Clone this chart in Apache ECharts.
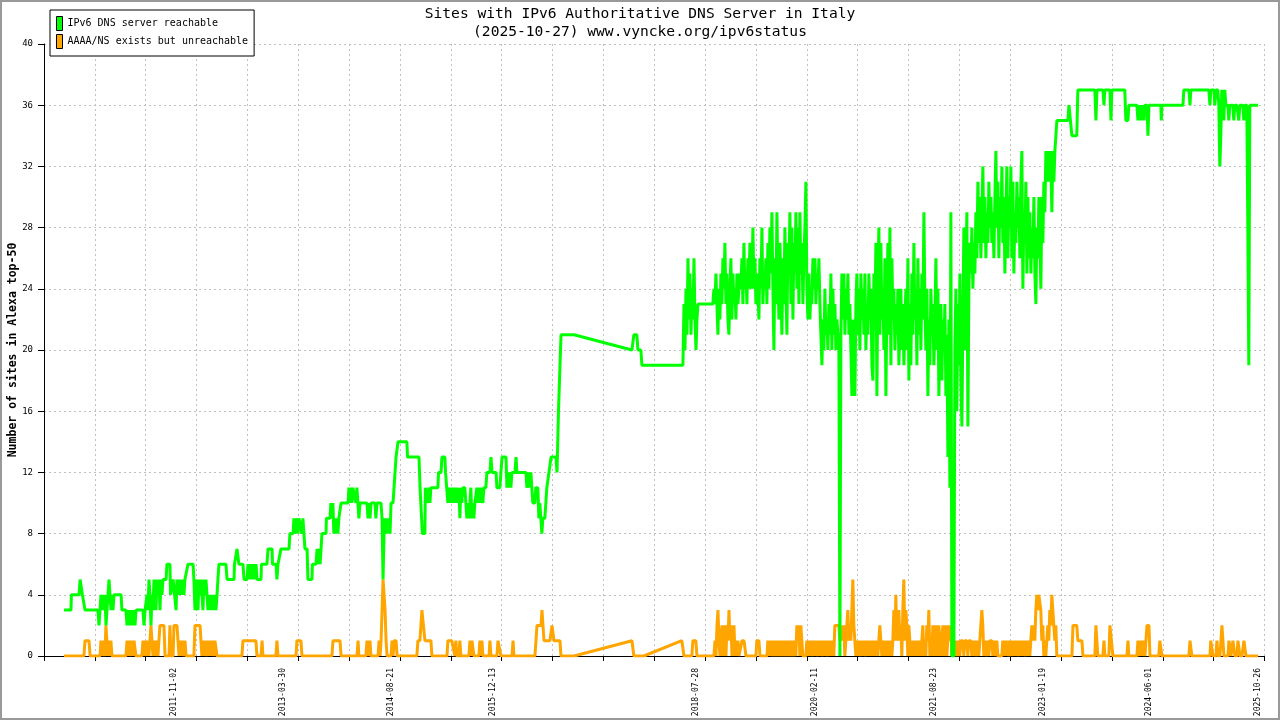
<!DOCTYPE html>
<html><head><meta charset="utf-8">
<script src="https://cdn.jsdelivr.net/npm/echarts@6/dist/echarts.min.js"></script>
<style>html,body{margin:0;padding:0;background:#fff}#c{width:1280px;height:720px}</style>
</head><body><div id="c"></div>
<script>
// ---- data (days since 2010-03-02, value) ; entries [day,[v...]] are runs sampled every SAMPLE_DAYS ----
const START = Date.UTC(2010, 2, 2);
const DAY = 86400000;
const SAMPLE_DAYS = 4.709;

const dateLabels = ['2011-11-02','2013-03-30','2014-08-21','2015-12-13','2018-07-28','2020-02-11','2021-08-23','2023-01-19','2024-06-01','2025-10-26'];

const reachable = [
 [94,3],[127,3],[129,4],[165,4],[170,5],[179,5],[181,4],[188,4],[193,3],[254,3],
 [259,[2,3,4,3,4,3,4,2,3,4,5,4,3,4,3,4]],
 [363,4],[367,3],[386,3],
 [391,[2,3,2,3,2,3,2,3,2,3]],
 [466,3],[471,2],[476,3],[480,3],
 [485,[4,3,5,4,2,4,3,5,4,3,5,4,5,3,5,4,5]],
 [575,5],[579,6],[593,6],[596,4],[603,4],[608,5],[617,5],[622,3],
 [626,[5,4,5,4,5,4,5,4,5]],
 [673,5],[678,6],[702,6],[706,5],
 [711,[3,5,4,3,5,4,5,4,3,5,4,5,4,3,4,3,4,3,4,3,4,3]],
 [815,4],[819,5],[824,6],[857,6],[862,5],[895,5],[897,6],[904,6],[909,7],[914,7],[918,6],[937,6],[942,5],[956,5],
 [961,[6,5,6,5,6,5,6,5,6]],
 [1003,5],[1022,5],[1024,6],[1050,6],[1055,7],[1074,7],[1076,6],[1093,6],[1097,5],[1102,6],[1111,6],[1116,7],[1154,7],[1158,8],[1173,8],
 [1177,[9,8,9,9,8,9,9,9,8,9,9]],
 [1229,7],[1239,7],[1243,5],[1262,5],[1264,6],[1281,6],
 [1286,[7,6,7,6,7]],
 [1309,8],[1328,8],[1330,9],[1347,9],
 [1351,[10,9,10,8,9,8,9,8,9,9]],
 [1399,10],[1432,10],
 [1436,[11,10,11,10,11,11,11,10,11,11,9,10]],
 [1493,10],[1521,10],
 [1526,[9,10,9,10]],
 [1559,10],[1563,9],[1568,10],[1587,10],
 [1592,[9,5,8,9,8,9,8,9,8,10,10,10,10,12,13,13,14]],
 [1709,14],[1712,13],[1766,13],[1771,11],[1780,11],[1782,8],[1794,8],[1796,11],[1803,11],
 [1808,[10,11,10,11]],
 [1855,11],[1858,12],[1870,12],[1874,13],[1888,13],[1891,12],[1898,12],
 [1902,[10,11,10,11,10,11,10,11,10,11,10,11,9,11,10,11,11,11,11,9,10,9,10,11,9,10,9,10,10,11,10,11,10,11,11,10,11,11,11]],
 [2086,12],[2100,12],[2105,13],[2110,12],[2129,12],[2133,11],[2147,11],[2152,12],[2157,13],[2176,13],
 [2180,[11,12,11,12,11,12,12]],
 [2218,12],[2223,13],[2227,12],[2270,12],
 [2274,[11,11,12,11,12,11,10,10,10,11,11,11,9,10,9,8,9,9,9,10,11]],
 [2378,12],[2383,12],[2388,13],[2411,13],[2416,12],[2420,12],[2423,16],[2430,19],[2435,21],[2496,21],
 [2769,20],[2778,21],[2792,21],[2797,20],[2811,20],[2816,19],[3009,19],
 [3014,[23,20,24,21,26,22,25,21,24,22,26,22,20,22]],
 [3080,23],[3150,23],
 [3155,[24,23,25,23,21,24,22,25,23,26,24,27,23,25,22,21,24,26,22,25,23,24,22,25,23,24,25,
        24,26,23,27,24,25,23,26,24,27,25,24,28,24,26,23,25,24,22,26,24,28,23,25,24,26,23,27,24,28,25,29,24,20,
        26,23,29,25,22,27,24,21,26,23,28,24,21,27,25,29,23,28,22,27,25,29,24,28,23,29,25,27,23,26,28,31,24,
        22,25,22,24,23,26,24,26,23,25,24,26,23,
        21,19,22,20,24,21,22,20,23,21,25,20,24,21,23,20,22,21,20,
        0,21,25,22,25,21,24,22,25,21,23,20,17,22,19,17,23,25,21,24,20,25,22,24,21,25,20,23,21,25,22,24,19,18,25,
        22,27,17,25,28,21,27,22,24,20,26,17,23,27,21,28,19,26,22,24,20,23,21,24,19,22,24,20,23,19,22,24,20,26,18,23,
        19,25,21,27,22,24,19,26,21,24,20,25,22,29,23,20,24,17,22,19,24,21,23,19,22,26,20,24,17,21,23,18,22,20,23,17,21,13,22,11,29,0,0,0,
        20,24,16,23,19,25,18,15,22,28,20,25,29,15,24,27,25,28,24,27,25,29,26,31,27,30,26,29,32,27,30,26,29,27,31,28,30,27,29,26,
        30,33,28,31,26,30,28,32,27,30,25,29,32,26,30,28,32,26,31,25,29,27,31,28,30,26,31,33,24,29,27,31,25,30,26,29,25,28,26,30,
        25,23,28,26,30,27,24,30,27,31,29,33,31,33,31,33,32,29,33,31,33,34,35]],
 [4822,35],[4827,36],[4836,36],[4841,34],[4864,34],[4869,37],[4949,37],[4954,35],[4959,37],[4987,37],[4992,36],[4996,37],
 [5020,37],[5025,35],[5029,37],[5090,37],[5095,35],[5105,35],[5109,36],[5147,36],
 [5152,[35,36,35,36,35,36,35,36,36,36,34,36]],
 [5260,36],[5262,35],[5265,36],[5364,36],[5368,37],[5392,37],[5397,36],[5401,37],[5486,37],[5491,36],[5495,37],[5510,37],
 [5514,[36,37,37,37,36,32,34,37,36,35,37,36,36,36,35,36,36,36,36,35,36,36,36,36,35,36,36,36,36,35,36,36,36,28,19,36]],
 [5718,36]
];

const unreachable = [
 [94,0],[188,0],[193,1],[212,1],[217,0],[264,0],
 [268,[1,0,1,1,0,2,1,0,1,0,1]],
 [320,0],[386,0],
 [391,[1,0,1,1,0,1,0,1,1]],
 [433,0],[461,0],
 [466,[1,0,1,1,0,1,0,1,2,1,0,1,0,1,1,0,1,2,2,2,2,2]],
 [570,0],[589,0],[593,2],[598,0],[608,0],[612,2],[626,2],
 [631,[1,0,1,0,1,1,0,1]],
 [669,0],[706,0],[711,2],[735,2],
 [739,[1,0,1,0,1,1,0,1,0,1,0,1,1,0,1,1]],
 [815,0],[932,0],[937,1],[998,1],[1003,0],[1022,0],[1027,1],[1031,0],[1092,0],[1097,1],[1102,0],[1187,0],[1191,1],[1210,1],[1215,0],
 [1356,0],[1361,1],[1394,1],[1399,0],[1474,0],[1479,1],[1483,0],[1516,0],
 [1521,[1,0,0,1,0]],
 [1573,0],
 [1578,[1,0,1,1,5,5,3,1,0,0,0,0,0,1,0,1,1,1,0]],
 [1756,0],
 [1761,[1,1,1,1,3,3,3,1,1,1,1,1,1,1,0]],
 [1898,0],
 [1902,[1,1,1,1,1,1,1,0,1,0,0,0,1,0]],
 [2001,0],
 [2006,[1,0,1,1,0]],
 [2048,0],
 [2053,[1,0,1,0]],
 [2096,0],[2100,1],[2105,0],[2133,0],[2138,1],[2147,1],[2152,0],[2204,0],[2209,1],[2213,0],[2312,0],
 [2317,[1,2,2,2,2,2,3,2,1,1,1,1,1,1,1,1,2,2,1,1,1,1,1,1,1,0]],
 [2496,0],[2769,1],[2774,1],[2778,0],[2825,0],[3004,1],[3009,1],[3014,0],[3051,0],[3056,1],[3070,1],[3075,0],[3155,0],
 [3160,[1,0,2,3,1,0,1,2,0,1,2,0,2,1,3,1,2,0,1,2,0,1,0,1,0,0,0,1,1,1,1,0]],
 [3353,0],[3357,1],[3367,1],[3372,0],[3405,0],
 [3409,[1,0,1,1,0,1,1,0,1,1,0,1,1,0,1,1,0,1,1,0,1,1,0,1,1,0,1,1,0,
        2,1,2,0,2,1,0,0,0,0,1,0,1,0,1,1,0,1,0,1,1,0,1,0,1,1,0,1,0,1,1,0,1,0,1,0,1,0,
        2,2,2,2,2,1,1,2,1,2,0,1,2,3,1,2,1,3,5,2,1,0,1,
        0,1,0,0,1,0,1,0,0,1,0,1,0,1,0,1,0,1,0,1,0,1,2,1,0,1,0,1,0,1,0,1,0,1,0,
        1,3,1,4,1,2,3,1,2,0,3,5,1,3,2,0,2,1,0,1,0,1,0,1,0,1,0,1,0,1,2,0,
        1,0,2,1,3,0,1,0,2,1,0,2,1,0,2,1,0,1,2,0,1,2,0,1,2,1,2,0,0,0,
        1,1,0,1,1,0,1,1,1,0,1,1,1,0,1,1,1,0,1,0,1,1,0,1,0,1,2,3,2,0,1,0,
        0,1,0,1,1,1,0,1,1,0,1,0,0,0,0,0,1,0,1,0,1,1,0,1,1,0,1,0,1,0,1,1,0,1,0,1,0,1,0,0,
        1,0,1,0,1,2,1,2,1,3,4,3,4,4,3,1,2,0,1,0,1,2,1,3,2,4,3,2,1,2,0]],
 [4841,0],[4846,2],[4864,2],[4869,1],[4888,1],[4893,0],[4949,0],[4954,2],[4959,2],[4963,0],[4987,0],[4992,1],[4996,0],
 [5015,0],[5020,2],[5029,2],[5034,0],[5100,0],[5105,1],[5109,0],[5147,0],
 [5152,[1,1,0,1,0,1,1,0,1,2,2,2,0]],
 [5250,0],[5255,1],[5260,1],[5265,0],[5392,0],[5397,1],[5401,1],[5406,0],[5491,0],[5495,1],[5500,1],[5505,0],[5519,0],
 [5524,[1,0,0,0,0,2,1,0,0,0,0,0,1,1,0,0,1,1,0,0,0,1,1,0,0,0,0,1,1,0]],
 [5718,0]
];

// ---- build ----
function expand(list) {
  const out = [];
  list.forEach(e => {
    if (Array.isArray(e[1])) e[1].forEach((v, k) => out.push([+(e[0] + k * SAMPLE_DAYS).toFixed(2), v]));
    else out.push([e[0], e[1]]);
  });
  return out;
}
const dayOf = s => (Date.parse(s + 'T00:00:00Z') - START) / DAY;
const labelDays = dateLabels.map(dayOf);
const fmtDay = v => new Date(START + Math.round(v) * DAY).toISOString().slice(0, 10);

const MONO = "'DejaVu Sans Mono', 'Liberation Mono', monospace";
const GRID_LINE = { show: true, lineStyle: { color: '#c0c0c0', type: [2, 3], width: 1 } };

const chart = echarts.init(document.getElementById('c'), null, { renderer: 'canvas' });
chart.setOption({
  animation: false,
  backgroundColor: '#fff',
  title: {
    text: 'Sites with IPv6 Authoritative DNS Server in Italy\n(2025-10-27) www.vyncke.org/ipv6status',
    left: 'center', top: 5, padding: 0,
    textStyle: { fontFamily: MONO, fontSize: 14.6, fontWeight: 'normal', color: '#000', lineHeight: 18 }
  },
  legend: {
    data: ['IPv6 DNS server reachable', 'AAAA/NS exists but unreachable'],
    orient: 'vertical', left: 50, top: 10, padding: [6, 6, 7, 6], itemGap: 3,
    itemWidth: 6, itemHeight: 14, icon: 'rect',
    itemStyle: { borderColor: '#000', borderWidth: 1 },
    borderColor: '#000', borderWidth: 1, backgroundColor: '#fff',
    textStyle: { fontFamily: MONO, fontSize: 10, color: '#000' }, z: 10
  },
  grid: { left: 44, right: 15.5, top: 44, bottom: 64, outerBoundsMode: 'none' },
  xAxis: {
    type: 'value', min: 0, max: 5748, interval: 239.5,
    axisLine: { show: true, onZero: false, lineStyle: { color: '#000', width: 1 } },
    axisTick: { show: true, length: 5, lineStyle: { color: '#000' } },
    axisLabel: { customValues: labelDays, formatter: fmtDay, rotate: 90, margin: 12,
                 fontFamily: MONO, fontSize: 8, color: '#000' },
    splitLine: GRID_LINE
  },
  yAxis: {
    type: 'value', min: 0, max: 40, interval: 4,
    name: 'Number of sites in Alexa top-50', nameLocation: 'middle', nameGap: 25, nameRotate: 90,
    nameMoveOverlap: false,
    nameTextStyle: { fontFamily: MONO, fontSize: 11.5, fontWeight: 'bold', color: '#000' },
    axisLine: { show: true, onZero: false, lineStyle: { color: '#000', width: 1 } },
    axisTick: { show: true, length: 6, lineStyle: { color: '#000' } },
    axisLabel: { fontFamily: MONO, fontSize: 9, color: '#000', margin: 11 },
    splitLine: GRID_LINE
  },
  graphic: [{ type: 'rect', silent: true, z: 100,
    shape: { x: 1, y: 1, width: 1278, height: 718 },
    style: { fill: 'none', stroke: '#999', lineWidth: 2 } }],
  series: [
    { name: 'AAAA/NS exists but unreachable', type: 'line', data: expand(unreachable),
      symbol: 'none', showSymbol: false, z: 2,
      lineStyle: { width: 3, color: '#ffa500', join: 'bevel', cap: 'butt' }, itemStyle: { color: '#ffa500' } },
    { name: 'IPv6 DNS server reachable', type: 'line', data: expand(reachable),
      symbol: 'none', showSymbol: false, z: 3,
      lineStyle: { width: 3, color: '#00ff00', join: 'bevel', cap: 'butt' }, itemStyle: { color: '#00ff00' } }
  ]
});
</script></body></html>
